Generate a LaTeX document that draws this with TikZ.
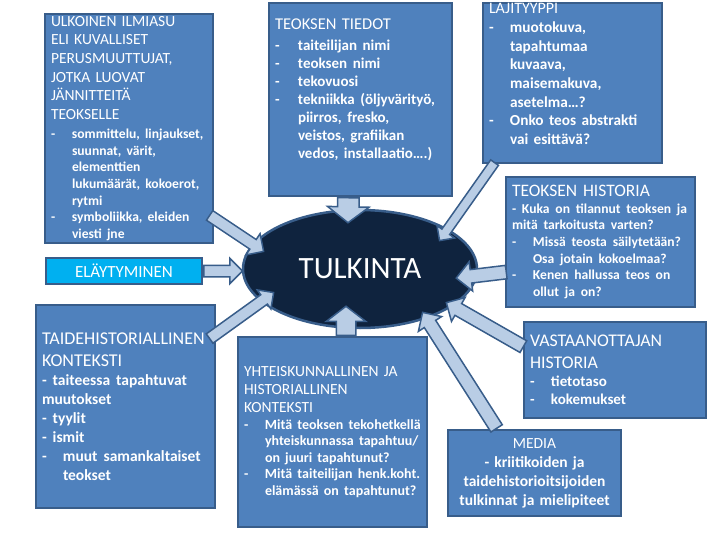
\documentclass[tikz,border=0pt]{standalone}
\usepackage{fontspec}
\setmainfont{Carlito}
\usepackage{xcolor}
\usepackage{tikz}
\usetikzlibrary{positioning}
\usetikzlibrary{shapes.geometric}
\usetikzlibrary{shapes.arrows}
\usetikzlibrary{calc}

\definecolor{boxblue}{HTML}{4F81BD}
\definecolor{boxline}{HTML}{385D8A}
\definecolor{elacyan}{HTML}{00B0F0}
\definecolor{tulkfill}{HTML}{0F233E}
\definecolor{arrowfill}{HTML}{B9CDE5}

\setlength{\parindent}{0pt}
\newcommand{\boxpar}{\frenchspacing\rightskip=0pt plus 1fil\relax\hyphenpenalty=10000\relax\tolerance=9999\relax}
\newcommand{\itemfont}[2]{\par\bfseries\fontsize{#1}{#2}\selectfont}
\newcommand{\dashitem}[2][21pt]{\par\hangindent=#1\hangafter=1\noindent\makebox[#1][l]{-}#2\par}
\newcommand{\blockarrow}[5][]{%
  \path let \p1=(#2), \p2=(#3),
      \n1={atan2(\y2-\y1,\x2-\x1)}, \n2={veclen(\x2-\x1,\y2-\y1)} in
    node[barrow, #1, inner ysep=#4, single arrow head extend=#5,
         minimum height=\n2, rotate=\n1, anchor=tail] at (\p1) {};}

\begin{document}
\begin{tikzpicture}
  [
    x=1pt, y=-1pt,
    box/.style={
      draw=boxline,
      fill=boxblue,
      line width=2pt,
      text=white,
      inner xsep=6pt,
      inner ysep=3pt
    },
    barrow/.style={single arrow, draw=boxline, fill=arrowfill, line width=1.5pt,
      inner xsep=0pt, minimum width=0pt, single arrow head indent=0pt}
  ]
  \fill[white] (0,0) rectangle (720,540);

  \node (tulk) at (360,269) [ellipse, draw=boxline, fill=tulkfill, line width=2.5pt,
    minimum width=234, minimum height=118, text=white, font=\fontsize{31}{36}\selectfont] {TULKINTA};

  \node (ulk) at (129,128.5) [box, minimum width=168, minimum height=229, text width=156pt,
    inner ysep=-3pt, font=\boxpar\fontsize{15.5}{18.7}\selectfont]
    {ULKOINEN ILMIASU\\ ELI KUVALLISET\\ PERUSMUUTTUJAT,\\ JOTKA LUOVAT\\ JÄNNITTEITÄ\\ TEOKSELLE
     \itemfont{13.6}{16.7}\vspace{2pt}
     \dashitem{sommittelu, linjaukset,\newline suunnat, värit,\newline elementtien\newline lukumäärät, kokoerot,\newline rytmi}
     \dashitem{symboliikka, eleiden\newline viesti jne}};
  \node (ela) at (124,271) [box, fill=elacyan, minimum width=156, minimum height=26, text width=144pt,
    align=center, inner ysep=0pt, font=\fontsize{17}{20}\selectfont] {ELÄYTYMINEN};
  \node (tied) at (360.5,99.5) [box, minimum width=183, minimum height=193, text width=171pt,
    font=\boxpar\fontsize{16.5}{20}\selectfont]
    {TEOKSEN TIEDOT
     \itemfont{15}{18}\vspace{3pt}
     \dashitem[23pt]{taiteilijan nimi}
     \dashitem[23pt]{teoksen nimi}
     \dashitem[23pt]{tekovuosi}
     \dashitem[23pt]{tekniikka (öljyvärityö,\newline piirros, fresko,\newline veistos, grafiikan\newline vedos, installaatio….)}
     \vspace{20pt}};
  \node (laji) at (572.5,83) [box, minimum width=179, minimum height=160, text width=167pt,
    inner ysep=-4pt, font=\boxpar\fontsize{16}{19}\selectfont]
    {LAJITYYPPI
     \itemfont{15.3}{18.7}
     \dashitem{muotokuva,\newline tapahtumaa\newline kuvaava,\newline maisemakuva,\newline asetelma…?}
     \dashitem{Onko teos abstrakti\newline vai esittävä?}
     \vspace{18pt}};
  \node (hist) at (600.5,242) [box, minimum width=189, minimum height=130, text width=177pt,
    font=\boxpar\fontsize{17.5}{20}\selectfont]
    {TEOKSEN HISTORIA
     \itemfont{13.6}{16.7}
     - Kuka on tilannut teoksen ja\newline mitä tarkoitusta varten?
     \dashitem{Missä teosta säilytetään?\newline Osa jotain kokoelmaa?}
     \dashitem{Kenen hallussa teos on\newline ollut ja on?}};
  \node (taide) at (125.5,406.5) [box, minimum width=179, minimum height=203, text width=167pt,
    font=\boxpar\fontsize{18}{22}\selectfont]
    {TAIDEHISTORIALLINEN\\ KONTEKSTI
     \itemfont{15.5}{19}
     - taiteessa tapahtuvat\newline muutokset\newline - tyylit\newline - ismit
     \dashitem{muut samankaltaiset\newline teokset}};
  \node (yht) at (332.5,432) [box, minimum width=189, minimum height=190, text width=177pt,
    font=\boxpar\fontsize{15.5}{18.3}\selectfont]
    {YHTEISKUNNALLINEN JA\\ HISTORIALLINEN\\ KONTEKSTI
     \itemfont{14}{16.5}
     \dashitem{Mitä teoksen tekohetkellä\newline yhteiskunnassa tapahtuu/\newline on juuri tapahtunut?}
     \dashitem{Mitä taiteilijan henk.koht.\newline elämässä on tapahtunut?}};
  \node (vast) at (615,370) [box, minimum width=182, minimum height=96, text width=170pt,
    font=\boxpar\fontsize{17.8}{21.7}\selectfont]
    {VASTAANOTTAJAN\\ HISTORIA
     \itemfont{15}{18.3}
     \dashitem{tietotaso}
     \dashitem{kokemukset}};
  \node (media) at (534.5,473) [box, minimum width=173, minimum height=86, text width=161pt,
    align=center, font=\fontsize{15.5}{19}\selectfont]
    {MEDIA\\ {\bfseries - kriitikoiden ja\\ taidehistorioitsijoiden\\ tulkinnat ja mielipiteet}};

  \blockarrow{$(ulk.south east)+(-5,-29)$}{$(tulk)+(-97,-18)$}{5pt}{7pt}
  \blockarrow{ela.east}{ela.east -| tulk.west}{5pt}{7pt}
  \blockarrow[single arrow tip angle=105]{$(tied.south)+(-12,0)$}{$(tulk)+(-12,-47)$}{10pt}{10pt}
  \blockarrow{$(laji.south west)+(13,-2)$}{$(tulk)+(80,-29)$}{4pt}{6pt}
  \blockarrow{$(hist.west)+(2,30)$}{$(tulk)+(97,9)$}{6pt}{8pt}
  \blockarrow{$(taide.north east)+(-7,35)$}{$(tulk)+(-87,24)$}{5pt}{6pt}
  \blockarrow[single arrow tip angle=105]{$(yht.north)+(13.5,0)$}{$(tulk)+(-14,38)$}{9pt}{10pt}
  \blockarrow{$(vast.west)+(1,-23)$}{$(tulk)+(87,34)$}{6pt}{7pt}
  \blockarrow{$(media.north)+(-37.5,0)$}{$(tulk)+(63,44)$}{6pt}{7pt}
\end{tikzpicture}
\end{document}
